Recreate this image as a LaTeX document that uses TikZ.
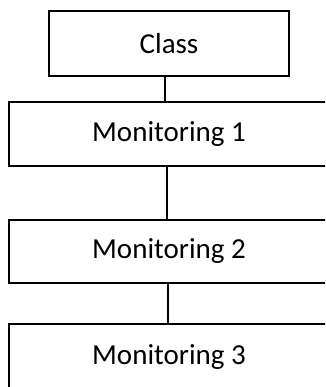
\documentclass[tikz,border=0pt]{standalone}
\usepackage{fontspec}
\setmainfont{Carlito}
\begin{document}
\begin{tikzpicture}[x=1pt,y=1pt,
  box/.style={draw=black, line width=1.8pt, fill=white, inner sep=0pt, font=\fontsize{29}{33}\selectfont},
  link/.style={draw=black, line width=1.8pt}]
\useasboundingbox (0,0) rectangle (325,-387);
\clip (0,0) rectangle (325,-387);
\node[box, minimum width=240pt, minimum height=65pt] (class) at (169,-43.5) {Class};
\node[box, minimum width=320pt, minimum height=64pt] (m1) at (169,-134) {Monitoring 1};
\node[box, minimum width=320pt, minimum height=63pt] (m2) at (169,-251.5) {Monitoring 2};
\node[box, minimum width=320pt, minimum height=66pt] (m3) at (169,-357) {Monitoring 3};
\draw[link] ([xshift=-4pt]class.south) -- ([xshift=-4pt]m1.north);
\draw[link] ([xshift=-2pt]m1.south) -- ([xshift=-2pt]m2.north);
\draw[link] ([xshift=-1pt]m2.south) -- ([xshift=-1pt]m3.north);
\end{tikzpicture}
\end{document}
